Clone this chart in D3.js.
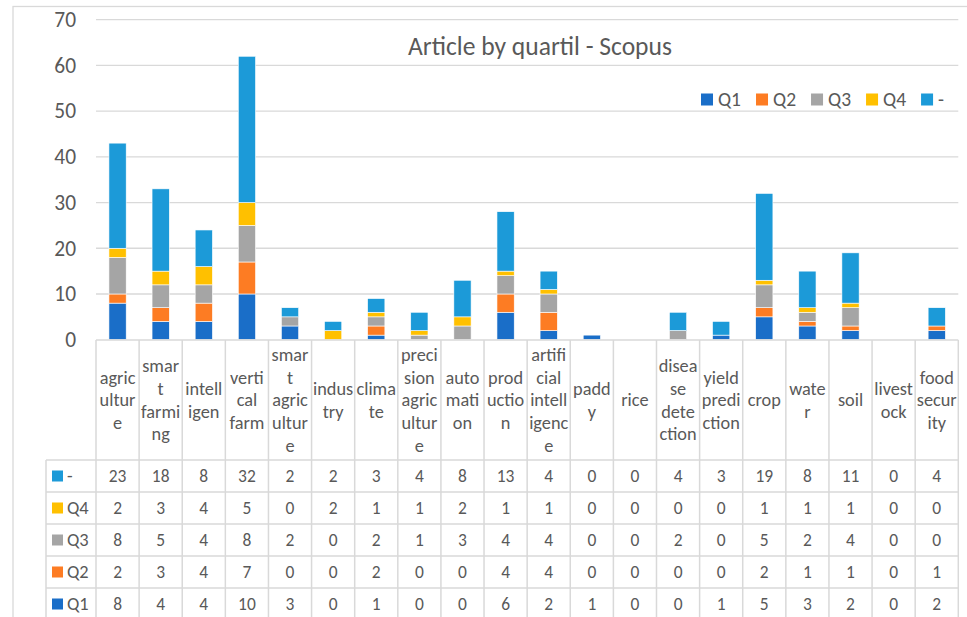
<!DOCTYPE html>
<html><head><meta charset="utf-8">
<script src="https://cdn.jsdelivr.net/npm/d3@7"></script>
<style>
html,body{margin:0;padding:0;background:#fff;}
svg{display:block;font-family:Carlito,Calibri,Lato,sans-serif;}
</style></head>
<body><svg id="c" width="967" height="617"></svg>
<script>
const title = "Article by quartil - Scopus";
const categories = ["agriculture","smart farming","intelligen","vertical farm","smart agriculture","industry","climate","precision agriculture","automation","production","artificial intelligence","paddy","rice","disease detection","yield prediction","crop","water","soil","livestock","food security"];
const categoryLines = [["agric","ultur","e"],["smar","t","farmi","ng"],["intell","igen"],["verti","cal","farm"],["smar","t","agric","ultur","e"],["indus","try"],["clima","te"],["preci","sion","agric","ultur","e"],["auto","mati","on"],["prod","uctio","n"],["artifi","cial","intell","igenc","e"],["padd","y"],["rice"],["disea","se","dete","ction"],["yield","predi","ction"],["crop"],["wate","r"],["soil"],["livest","ock"],["food","secur","ity"]];
const seriesNames = ["Q1","Q2","Q3","Q4","-"];
const q1   = [8,4,4,10,3,0,1,0,0,6,2,1,0,0,1,5,3,2,0,2];
const q2   = [2,3,4,7,0,0,2,0,0,4,4,0,0,0,0,2,1,1,0,1];
const q3   = [8,5,4,8,2,0,2,1,3,4,4,0,0,2,0,5,2,4,0,0];
const q4   = [2,3,4,5,0,2,1,1,2,1,1,0,0,0,0,1,1,1,0,0];
const dash = [23,18,8,32,2,2,3,4,8,13,4,0,0,4,3,19,8,11,0,4];
const yTicks = [0,10,20,30,40,50,60,70];
const colors = {"Q1":"#1A6EC8","Q2":"#FD7C23","Q3":"#A5A5A5","Q4":"#FFC000","-":"#1C9AD8"};
const seriesValues = {"Q1":q1,"Q2":q2,"Q3":q3,"Q4":q4,"-":dash};
const tableOrder = ["-","Q4","Q3","Q2","Q1"];

const rows = categories.map((c,i)=>{const o={cat:c}; seriesNames.forEach(s=>o[s]=seriesValues[s][i]); return o;});
const svg = d3.select("#c");
const textColor = "#595959", gridColor = "#D9D9D9";

// font size that makes a sample string reach a given width
function fitSize(sample, width){
  const t = svg.append("text").style("font-size","100px").text(sample);
  const w = t.node().getComputedTextLength(); t.remove();
  return (100*width/w).toFixed(2)+"px";
}
const fsTitle = fitSize(title, 264);
const fsLegend = fitSize("Q1", 23);
const fsTick = fitSize("70", 21.7);
const fsCell = fitSize("23", 17.7);
const fsHead = fitSize("agric", 35.7);
const fsRowLab = fitSize("Q4", 21.7);

const x = d3.scaleBand().domain(categories).range([96,958.3]).padding(0);
const y = d3.scaleLinear().domain([0,70]).range([339.7,19.7]);

// outer chart border
svg.append("rect").attr("x",13).attr("y",6.5).attr("width",1000).attr("height",700)
  .attr("fill","none").attr("stroke",gridColor).attr("stroke-width",1.3);

// gridlines
svg.append("g").selectAll("line").data(yTicks.filter(t=>t>0)).join("line")
  .attr("x1",96).attr("x2",958.3).attr("y1",d=>y(d)).attr("y2",d=>y(d))
  .attr("stroke",gridColor).attr("stroke-width",1.3);

// y axis labels
const yAxis = svg.append("g").attr("transform","translate(96,0)")
  .call(d3.axisLeft(y).tickValues(yTicks).tickSize(0).tickPadding(20));
yAxis.select(".domain").remove();
yAxis.selectAll("text").attr("fill",textColor).style("font-size",fsTick).style("font-family","Carlito,Calibri,Lato,sans-serif");

// title
svg.append("text").attr("x",540).attr("y",55).attr("text-anchor","middle")
  .attr("fill",textColor).style("font-size",fsTitle).text(title);

// bars
const stacked = d3.stack().keys(seriesNames)(rows);
const bw = x.bandwidth()*0.4;
svg.append("g").selectAll("g").data(stacked).join("g").attr("fill",d=>colors[d.key])
  .selectAll("rect").data(d=>d.filter(p=>p[1]-p[0]>0)).join("rect")
  .attr("x",d=>x(d.data.cat)+x.bandwidth()/2-bw/2).attr("width",bw)
  .attr("y",d=>y(d[1])).attr("height",d=>y(d[0])-y(d[1]))
  .attr("stroke","#fff").attr("stroke-width",0.6);

// legend
const lg = svg.append("g");
let lx = 701;
seriesNames.forEach(s=>{
  lg.append("rect").attr("x",lx).attr("y",93.5).attr("width",12).attr("height",12).attr("fill",colors[s]);
  const t = lg.append("text").attr("x",lx+17).attr("y",99.5).attr("dy","0.35em")
    .attr("fill",textColor).style("font-size",fsLegend).text(s);
  lx += 17 + t.node().getComputedTextLength() + 15;
});

// data table
const tbl = svg.append("g");
const headTop = 340, headBottom = 460, rowH = 32;
const tableBottom = headBottom + rowH*tableOrder.length;
tbl.append("line").attr("x1",96).attr("x2",958.3).attr("y1",headTop).attr("y2",headTop).attr("stroke",gridColor).attr("stroke-width",1.5);
d3.range(tableOrder.length+1).forEach(i=>{
  const yy = headBottom + i*rowH;
  tbl.append("line").attr("x1",46).attr("x2",958.3).attr("y1",yy).attr("y2",yy).attr("stroke",gridColor).attr("stroke-width",1.5);
});
tbl.selectAll("line.v").data(categories.concat(["__end"])).join("line").attr("class","v")
  .attr("x1",(d,i)=>i<categories.length?x(d):x.range()[1]).attr("x2",(d,i)=>i<categories.length?x(d):x.range()[1])
  .attr("y1",headTop).attr("y2",tableBottom).attr("stroke",gridColor).attr("stroke-width",1.5);
tbl.append("line").attr("x1",46).attr("x2",46).attr("y1",headBottom).attr("y2",tableBottom).attr("stroke",gridColor).attr("stroke-width",1.5);

// header labels
const lineH = 22.7, headMid = 400;
categories.forEach((c,i)=>{
  const lines = categoryLines[i];
  const t = tbl.append("text").attr("text-anchor","middle").attr("fill",textColor).style("font-size",fsHead);
  lines.forEach((ln,j)=>{
    t.append("tspan").attr("x",x(c)+x.bandwidth()/2)
      .attr("y",headMid + (j-(lines.length-1)/2)*lineH).attr("dy","0.35em").text(ln);
  });
});

// rows
tableOrder.forEach((s,r)=>{
  const cy = headBottom + r*rowH + rowH/2;
  tbl.append("rect").attr("x",52).attr("y",cy-5.5).attr("width",11).attr("height",11).attr("fill",colors[s]);
  tbl.append("text").attr("x",67).attr("y",cy).attr("dy","0.35em").attr("fill",textColor).style("font-size",fsRowLab).text(s);
  seriesValues[s].forEach((v,i)=>{
    tbl.append("text").attr("x",x(categories[i])+x.bandwidth()/2).attr("y",cy).attr("dy","0.35em")
      .attr("text-anchor","middle").attr("fill",textColor).style("font-size",fsCell).text(v);
  });
});
</script></body></html>
